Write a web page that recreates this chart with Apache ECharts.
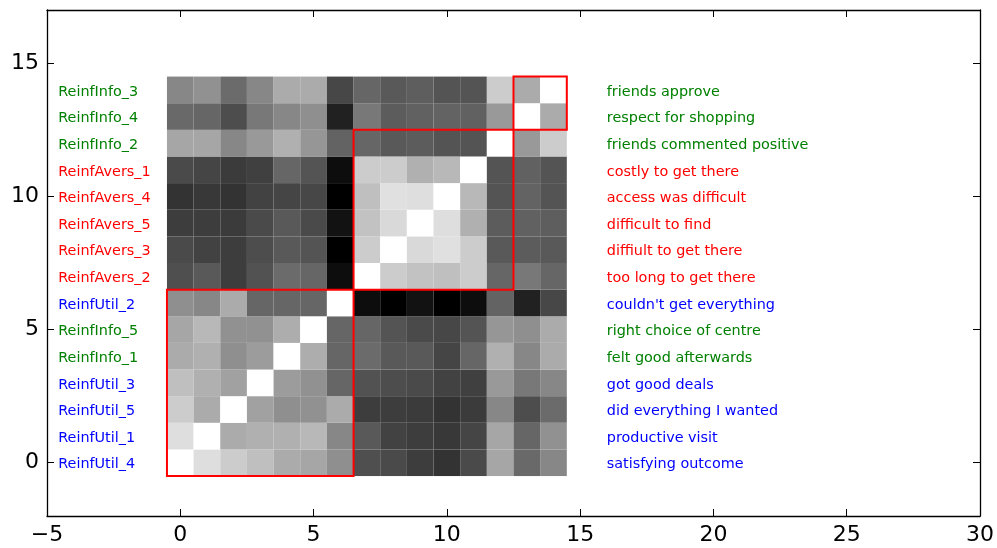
<!DOCTYPE html>
<html>
<head>
<meta charset="utf-8">
<script src="https://cdn.jsdelivr.net/npm/echarts@6/dist/echarts.min.js"></script>
<style>
  html, body { margin: 0; padding: 0; background: #ffffff; }
  #chart { width: 997px; height: 548px; }
</style>
</head>
<body>
<div id="chart"></div>
<script>
// Item order from bottom (row 0) to top (row 14)
const varNames = ['ReinfUtil_4', 'ReinfUtil_1', 'ReinfUtil_5', 'ReinfUtil_3', 'ReinfInfo_1',
  'ReinfInfo_5', 'ReinfUtil_2', 'ReinfAvers_2', 'ReinfAvers_3', 'ReinfAvers_5',
  'ReinfAvers_4', 'ReinfAvers_1', 'ReinfInfo_2', 'ReinfInfo_4', 'ReinfInfo_3'];
const descriptions = ['satisfying outcome', 'productive visit', 'did everything I wanted',
  'got good deals', 'felt good afterwards', 'right choice of centre', "couldn't get everything",
  'too long to get there', 'diffiult to get there', 'difficult to find', 'access was difficult',
  'costly to get there', 'friends commented positive', 'respect for shopping', 'friends approve'];
const groups = ['Util', 'Util', 'Util', 'Util', 'Info', 'Info', 'Util', 'Avers', 'Avers',
  'Avers', 'Avers', 'Avers', 'Info', 'Info', 'Info'];

// Scaled similarity matrix (0 = black, 1 = white), rows/columns in the order above
const matrix = [
  [1.00, 0.87, 0.80, 0.75, 0.67, 0.65, 0.56, 0.31, 0.29, 0.24, 0.20, 0.29, 0.65, 0.41, 0.53],
  [0.87, 1.00, 0.67, 0.69, 0.69, 0.72, 0.53, 0.35, 0.26, 0.24, 0.22, 0.27, 0.65, 0.40, 0.57],
  [0.80, 0.67, 1.00, 0.63, 0.56, 0.57, 0.67, 0.24, 0.24, 0.23, 0.20, 0.23, 0.53, 0.30, 0.42],
  [0.75, 0.69, 0.63, 1.00, 0.61, 0.57, 0.40, 0.32, 0.30, 0.29, 0.26, 0.25, 0.60, 0.47, 0.53],
  [0.67, 0.69, 0.56, 0.61, 1.00, 0.68, 0.40, 0.42, 0.35, 0.35, 0.27, 0.40, 0.69, 0.53, 0.67],
  [0.65, 0.72, 0.57, 0.57, 0.68, 1.00, 0.40, 0.40, 0.33, 0.29, 0.28, 0.33, 0.59, 0.56, 0.67],
  [0.56, 0.53, 0.67, 0.40, 0.40, 0.40, 1.00, 0.05, 0.00, 0.07, 0.00, 0.05, 0.39, 0.13, 0.28],
  [0.31, 0.35, 0.24, 0.32, 0.42, 0.40, 0.05, 1.00, 0.80, 0.76, 0.75, 0.80, 0.40, 0.47, 0.40],
  [0.29, 0.26, 0.24, 0.30, 0.35, 0.33, 0.00, 0.80, 1.00, 0.85, 0.88, 0.80, 0.35, 0.36, 0.35],
  [0.24, 0.24, 0.23, 0.29, 0.35, 0.29, 0.07, 0.76, 0.85, 1.00, 0.87, 0.69, 0.36, 0.38, 0.37],
  [0.20, 0.22, 0.20, 0.26, 0.27, 0.28, 0.00, 0.75, 0.88, 0.87, 1.00, 0.72, 0.33, 0.39, 0.33],
  [0.29, 0.27, 0.23, 0.25, 0.40, 0.33, 0.05, 0.80, 0.80, 0.69, 0.72, 1.00, 0.33, 0.38, 0.33],
  [0.65, 0.65, 0.53, 0.60, 0.69, 0.59, 0.39, 0.40, 0.35, 0.36, 0.33, 0.33, 1.00, 0.60, 0.80],
  [0.41, 0.40, 0.30, 0.47, 0.53, 0.56, 0.13, 0.47, 0.36, 0.38, 0.39, 0.38, 0.60, 1.00, 0.67],
  [0.53, 0.57, 0.42, 0.53, 0.67, 0.67, 0.28, 0.40, 0.35, 0.37, 0.33, 0.33, 0.80, 0.67, 1.00]
];

// Cluster blocks as [first index, last index]
const clusters = [[0, 6], [7, 12], [13, 14]];

// Axis ticks
const xTicks = [-5, 0, 5, 10, 15, 20, 25, 30];
const yTicks = [0, 5, 10, 15];

const groupColors = { Util: '#0000ff', Info: '#008000', Avers: '#ff0000' };
const LEFT_LABEL_X = -4.58;
const RIGHT_LABEL_X = 16.0;
const FONT = '"DejaVu Sans", "Bitstream Vera Sans", sans-serif';

const cells = [];
matrix.forEach((row, r) => row.forEach((v, c) => cells.push([c, r, v])));

const labelData = varNames.map((name, i) => [i, name, descriptions[i], groups[i]]);

const minusFmt = v => String(v).replace('-', '\u2212');

const axisCommon = {
  axisLine: { show: true, onZero: false, lineStyle: { color: '#000', width: 1.3 } },
  axisTick: { show: true, inside: true, length: 7, lineStyle: { color: '#000', width: 1 } },
  splitLine: { show: false }
};

const chart = echarts.init(document.getElementById('chart'), null, { renderer: 'canvas' });
chart.setOption({
  animation: false,
  backgroundColor: '#ffffff',
  grid: { left: 47, top: 10, right: 17, bottom: 32, containLabel: false },
  xAxis: [
    Object.assign({}, axisCommon, {
      type: 'value', position: 'bottom', min: -5, max: 30, interval: 5,
      axisLabel: { show: true, formatter: minusFmt, color: '#000', fontSize: 22,
        fontFamily: FONT, margin: 8 }
    }),
    Object.assign({}, axisCommon, {
      type: 'value', position: 'top', min: -5, max: 30, interval: 5,
      axisLabel: { show: false }
    })
  ],
  yAxis: [
    Object.assign({}, axisCommon, {
      type: 'value', position: 'left', min: -2, max: 17,
      axisTick: Object.assign({}, axisCommon.axisTick, { customValues: yTicks }),
      axisLabel: { show: true, customValues: yTicks, formatter: minusFmt, color: '#000',
        fontSize: 22, fontFamily: FONT, margin: 8 }
    }),
    Object.assign({}, axisCommon, {
      type: 'value', position: 'right', min: -2, max: 17,
      axisTick: Object.assign({}, axisCommon.axisTick, { customValues: yTicks }),
      axisLabel: { show: false }
    })
  ],
  visualMap: {
    show: false, type: 'continuous', min: 0, max: 1, dimension: 2, seriesIndex: 0,
    inRange: { color: ['#000000', '#ffffff'] }
  },
  series: [
    {
      type: 'custom',
      name: 'matrix',
      xAxisIndex: 0, yAxisIndex: 0,
      data: cells,
      encode: { x: 0, y: 1 },
      z: 2,
      renderItem(params, api) {
        const x = api.value(0), y = api.value(1);
        const tl = api.coord([x - 0.5, y + 0.5]);
        const br = api.coord([x + 0.5, y - 0.5]);
        return {
          type: 'rect',
          shape: { x: tl[0], y: tl[1], width: br[0] - tl[0], height: br[1] - tl[1] },
          style: { fill: api.visual('color'), stroke: null }
        };
      }
    },
    {
      type: 'custom',
      name: 'clusters',
      xAxisIndex: 0, yAxisIndex: 0,
      data: clusters,
      encode: { x: 0, y: 1 },
      z: 5,
      renderItem(params, api) {
        const a = api.value(0), b = api.value(1);
        const tl = api.coord([a - 0.5, b + 0.5]);
        const br = api.coord([b + 0.5, a - 0.5]);
        return {
          type: 'rect',
          shape: { x: tl[0], y: tl[1], width: br[0] - tl[0], height: br[1] - tl[1] },
          style: { fill: null, stroke: '#ff0000', lineWidth: 2 }
        };
      }
    },
    {
      type: 'custom',
      name: 'labels',
      xAxisIndex: 0, yAxisIndex: 0,
      data: labelData,
      dimensions: ['idx', 'name', 'desc', 'group'],
      encode: { y: 0 },
      z: 6,
      renderItem(params, api) {
        const i = labelData[params.dataIndex][0];
        const name = labelData[params.dataIndex][1];
        const desc = labelData[params.dataIndex][2];
        const color = groupColors[labelData[params.dataIndex][3]];
        const pl = api.coord([LEFT_LABEL_X, i]);
        const pr = api.coord([RIGHT_LABEL_X, i]);
        const st = { fill: color, fontSize: 14.4, fontFamily: FONT,
          textAlign: 'left', textVerticalAlign: 'middle' };
        return {
          type: 'group',
          children: [
            { type: 'text', x: pl[0], y: pl[1] + 2,
              style: Object.assign({ text: name }, st) },
            { type: 'text', x: pr[0], y: pr[1] + 2,
              style: Object.assign({ text: desc }, st) }
          ]
        };
      }
    }
  ]
});
</script>
</body>
</html>
